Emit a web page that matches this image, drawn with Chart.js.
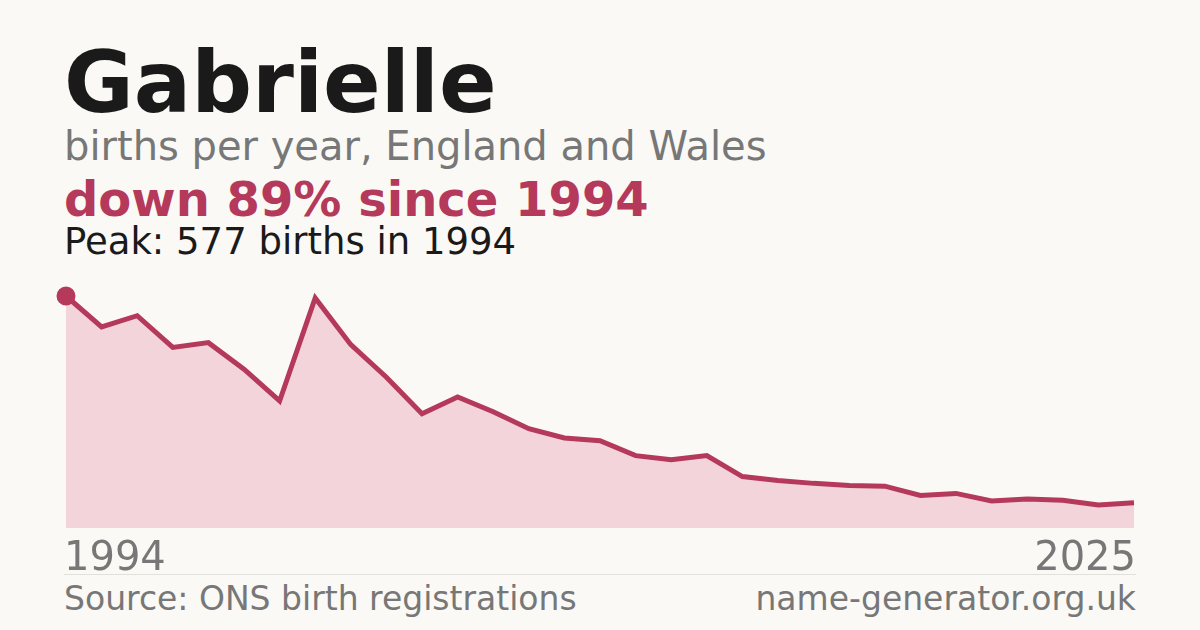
<!DOCTYPE html><html><head><meta charset="utf-8">
<script src="https://cdn.jsdelivr.net/npm/chart.js@4/dist/chart.umd.min.js"></script>
<style>
body{margin:0;width:1200px;height:630px;background:#faf9f5;font-family:"DejaVu Sans",sans-serif;position:relative;overflow:hidden}
.t{position:absolute;left:64px;white-space:nowrap}
#cw{position:absolute;left:54px;top:280px;width:1092px;height:260px}
</style></head><body>
<div class="t" style="top:33px;font-size:85px;font-weight:bold;color:#1a1a1a">Gabrielle</div>
<div class="t" style="top:123px;font-size:40px;color:#777">births per year, England and Wales</div>
<div class="t" style="top:171px;font-size:48px;font-weight:bold;color:#b5395a">down 89% since 1994</div>
<div class="t" style="top:220px;font-size:37px;color:#1a1a1a">Peak: 577 births in 1994</div>
<div id="cw"><canvas id="c"></canvas></div>
<div class="t" id="l0" style="top:533px;font-size:40px;color:#777"></div>
<div class="t" id="l1" style="top:533px;left:auto;right:64px;font-size:40px;color:#777"></div>
<div style="position:absolute;left:64px;right:64px;top:574px;height:1px;background:#e2e0da"></div>
<div class="t" style="top:579px;font-size:33px;color:#777">Source: ONS birth registrations</div>
<div class="t" style="top:579px;left:auto;right:64px;font-size:33px;color:#777">name-generator.org.uk</div>
<script>
const years=[1994,1995,1996,1997,1998,1999,2000,2001,2002,2003,2004,2005,2006,2007,2008,2009,2010,2011,2012,2013,2014,2015,2016,2017,2018,2019,2020,2021,2022,2023,2024];
const births=[577,500,528,449,461,395,316,572,456,375,284,326,289,247,224,217,180,170,180,128,118,111,106,104,81,86,67,72,69,57,63];
const tickLabels=["1994","2025"];
document.getElementById('l0').textContent=tickLabels[0];
document.getElementById('l1').textContent=tickLabels[1];
new Chart(document.getElementById('c'),{type:'line',
data:{labels:years,datasets:[{data:births,borderColor:'#b5395a',borderWidth:5,backgroundColor:'#f2d4da',fill:'origin',tension:0,clip:false,
pointRadius:births.map((v,i)=>i===0?7:0),pointBackgroundColor:'#b5395a',pointBorderColor:'#b5395a'}]},
options:{responsive:true,maintainAspectRatio:false,animation:false,layout:{padding:{left:10,right:10,top:16,bottom:10}},
plugins:{legend:{display:false},tooltip:{enabled:false}},
scales:{x:{display:false},y:{display:false,min:0,max:577}}}});
</script></body></html>
